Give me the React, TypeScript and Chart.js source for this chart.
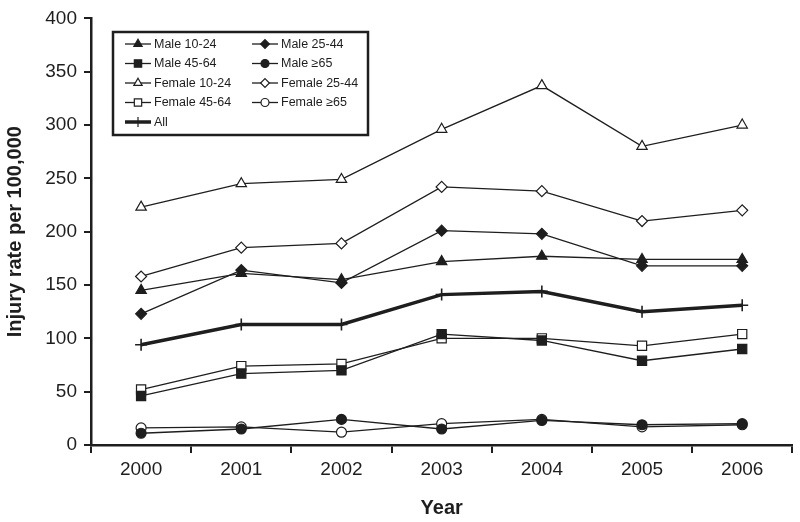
import React, { useEffect, useRef } from "react";
import { Chart, registerables } from "chart.js";

Chart.register(...registerables);

const years = ["2000", "2001", "2002", "2003", "2004", "2005", "2006"];
const yTicks = [0, 50, 100, 150, 200, 250, 300, 350, 400];

const male1024 = [145, 161, 155, 172, 177, 174, 174];
const male2544 = [123, 164, 152, 201, 198, 168, 168];
const male4564 = [46, 67, 70, 104, 98, 79, 90];
const male65 = [11, 15, 24, 15, 23, 19, 20];
const female1024 = [223, 245, 249, 296, 337, 280, 300];
const female2544 = [158, 185, 189, 242, 238, 210, 220];
const female4564 = [52, 74, 76, 100, 100, 93, 104];
const female65 = [16, 17, 12, 20, 24, 17, 19];
const allRates = [94, 113, 113, 141, 144, 125, 131];

const INK = "#1e1e1e";
const FONT = "'Liberation Sans', Arial, sans-serif";

type Series = {
  label: string;
  data: number[];
  style: string;
  filled: boolean;
  radius: number;
  width: number;
};

const series: Series[] = [
  { label: "Male 10-24", data: male1024, style: "triangle", filled: true, radius: 6, width: 1.3 },
  { label: "Male 25-44", data: male2544, style: "rectRot", filled: true, radius: 5.5, width: 1.3 },
  { label: "Male 45-64", data: male4564, style: "rect", filled: true, radius: 6.5, width: 1.3 },
  { label: "Male \u226565", data: male65, style: "circle", filled: true, radius: 5, width: 1.3 },
  { label: "Female 10-24", data: female1024, style: "triangle", filled: false, radius: 6, width: 1.3 },
  { label: "Female 25-44", data: female2544, style: "rectRot", filled: false, radius: 5.5, width: 1.3 },
  { label: "Female 45-64", data: female4564, style: "rect", filled: false, radius: 6.5, width: 1.3 },
  { label: "Female \u226565", data: female65, style: "circle", filled: false, radius: 5, width: 1.3 },
  { label: "All", data: allRates, style: "cross", filled: true, radius: 6, width: 3.5 },
];

function drawMarker(ctx: CanvasRenderingContext2D, style: string, x: number, y: number, r: number, filled: boolean) {
  ctx.save();
  ctx.beginPath();
  ctx.strokeStyle = INK;
  ctx.fillStyle = filled ? INK : "#ffffff";
  ctx.lineWidth = 1.2;
  if (style === "triangle") {
    const h = r * 1.5;
    const w = r * Math.sqrt(3) / 2;
    ctx.moveTo(x, y - r);
    ctx.lineTo(x + w, y + r / 2);
    ctx.lineTo(x - w, y + r / 2);
    ctx.closePath();
    void h;
  } else if (style === "rectRot") {
    ctx.moveTo(x, y - r);
    ctx.lineTo(x + r, y);
    ctx.lineTo(x, y + r);
    ctx.lineTo(x - r, y);
    ctx.closePath();
  } else if (style === "rect") {
    const s = r * Math.SQRT1_2;
    ctx.rect(x - s, y - s, 2 * s, 2 * s);
  } else if (style === "circle") {
    ctx.arc(x, y, r, 0, Math.PI * 2);
  } else if (style === "cross") {
    ctx.moveTo(x, y - r);
    ctx.lineTo(x, y + r);
    ctx.stroke();
    ctx.restore();
    return;
  }
  ctx.fill();
  ctx.stroke();
  ctx.restore();
}

const legendPlugin = {
  id: "customLegend",
  afterDraw(chart: any) {
    const ctx: CanvasRenderingContext2D = chart.ctx;
    const bx = 113, by = 32, bw = 255, bh = 103;
    ctx.save();
    ctx.fillStyle = "#ffffff";
    ctx.fillRect(bx, by, bw, bh);
    ctx.strokeStyle = INK;
    ctx.lineWidth = 2.5;
    ctx.strokeRect(bx, by, bw, bh);
    ctx.font = `12.5px ${FONT}`;
    ctx.textBaseline = "middle";
    ctx.textAlign = "left";
    const rowY = [44, 63.5, 83, 102.5, 122];
    const colX = [125, 252];
    series.forEach((s, i) => {
      const col = i === 8 ? 0 : i % 2;
      const row = i === 8 ? 4 : Math.floor(i / 2);
      const x0 = colX[col];
      const y = rowY[row];
      ctx.beginPath();
      ctx.strokeStyle = INK;
      ctx.lineWidth = s.width === 3.5 ? 3.5 : 1.3;
      ctx.moveTo(x0, y);
      ctx.lineTo(x0 + 26, y);
      ctx.stroke();
      drawMarker(ctx, s.style, x0 + 13, y, s.style === "cross" ? 5 : s.radius * 0.8, s.filled);
      ctx.fillStyle = INK;
      ctx.fillText(s.label, x0 + 29, y + 0.5);
    });
    ctx.restore();
  },
};

export default function App() {
  const ref = useRef<HTMLCanvasElement | null>(null);

  useEffect(() => {
    document.body.style.margin = "0";
    const canvas = ref.current;
    if (!canvas) return;
    const chart = new Chart(canvas, {
      type: "line",
      data: {
        labels: years,
        datasets: series.map((s) => ({
          label: s.label,
          data: s.data,
          borderColor: INK,
          borderWidth: s.width,
          backgroundColor: s.filled ? INK : "#ffffff",
          pointStyle: s.style as any,
          pointRadius: s.radius,
          pointBorderColor: INK,
          pointBackgroundColor: s.filled ? INK : "#ffffff",
          pointBorderWidth: s.style === "cross" ? 1.6 : 1.2,
          tension: 0,
          fill: false,
        })),
      },
      options: {
        responsive: false,
        animation: false,
        devicePixelRatio: 1,
        layout: { padding: { top: 12, right: 4, left: 0, bottom: 0 } },
        plugins: {
          legend: { display: false },
          tooltip: { enabled: false },
        },
        scales: {
          x: {
            type: "category",
            offset: true,
            grid: {
              offset: true,
              drawOnChartArea: false,
              drawTicks: true,
              tickLength: 8,
              color: INK,
              lineWidth: 2,
            },
            border: { display: true, color: INK, width: 2.5 },
            ticks: {
              color: INK,
              font: { family: FONT, size: 19 },
              padding: 5,
              maxRotation: 0,
            },
            title: {
              display: true,
              text: "Year",
              color: INK,
              font: { family: FONT, size: 20, weight: "bold" },
              padding: { top: 0, bottom: 2 },
            },
            afterFit: (scale: any) => {
              scale.height = 77;
            },
          },
          y: {
            min: 0,
            max: 400,
            afterBuildTicks: (scale: any) => {
              scale.ticks = yTicks.map((v) => ({ value: v }));
            },
            grid: {
              drawOnChartArea: false,
              drawTicks: true,
              tickLength: 7,
              color: INK,
              lineWidth: 2,
            },
            border: { display: true, color: INK, width: 2.5 },
            ticks: {
              color: INK,
              font: { family: FONT, size: 19 },
              padding: 7,
            },
            title: {
              display: true,
              text: "Injury rate per 100,000",
              color: INK,
              font: { family: FONT, size: 20, weight: "bold" },
              padding: { top: 3, bottom: 0 },
            },
            afterFit: (scale: any) => {
              scale.width = 91;
            },
          },
        },
      },
      plugins: [legendPlugin],
    });
    return () => chart.destroy();
  }, []);

  return (
    <div style={{ position: "fixed", left: 0, top: 0, width: 800, height: 522, background: "#fff" }}>
      <canvas ref={ref} width={800} height={522} style={{ width: 800, height: 522 }} />
    </div>
  );
}
